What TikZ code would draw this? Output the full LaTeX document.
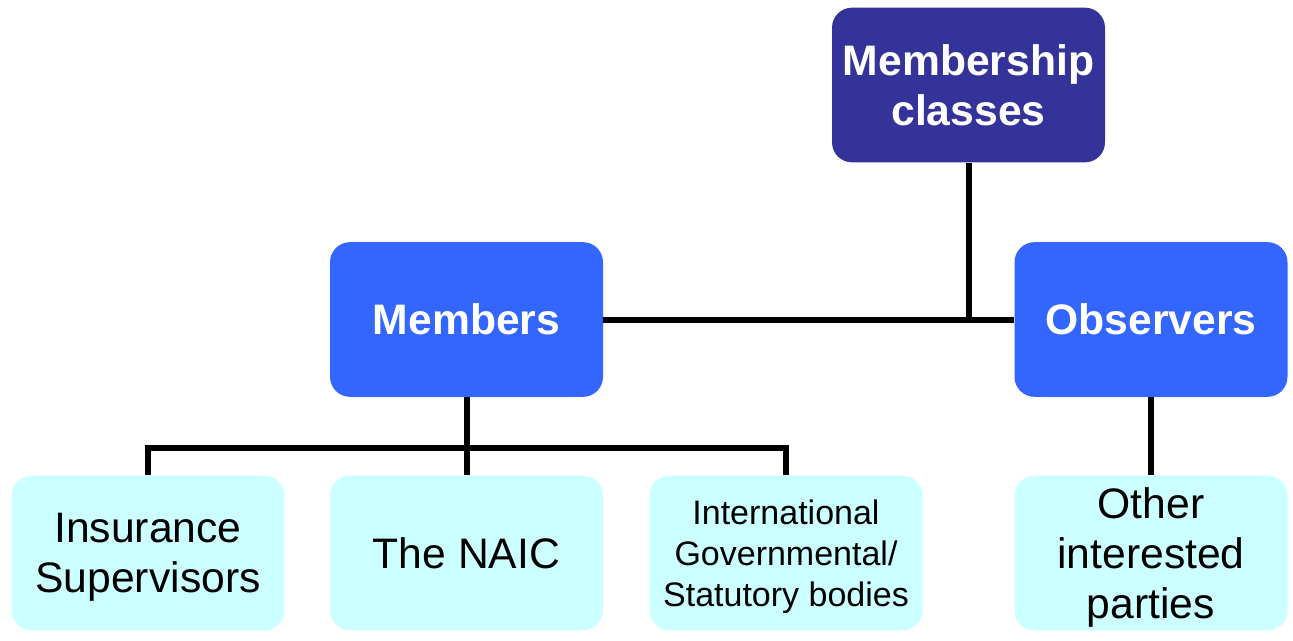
\documentclass[tikz,border=0pt]{standalone}
\usepackage{fontspec}
\setmainfont{Liberation Sans}
\definecolor{navy}{HTML}{333399}
\definecolor{midblue}{HTML}{3366FF}
\definecolor{paleCyan}{HTML}{CCFFFF}
\begin{document}
\begin{tikzpicture}[x=0.75pt,y=-0.75pt,
  boxbase/.style={rectangle,rounded corners=15pt,inner sep=0pt,minimum width=204.75pt,minimum height=116pt,align=center},
  headbox/.style={boxbase,fill=navy,text=white,font=\fontsize{32}{37.5}\selectfont\bfseries},
  classbox/.style={boxbase,fill=midblue,text=white,font=\fontsize{32}{37.5}\selectfont\bfseries},
  leafbox/.style={boxbase,fill=paleCyan,text=black,text depth=0pt,font=\fontsize{32}{37.5}\selectfont},
  smallleaf/.style={boxbase,fill=paleCyan,text=black,text depth=0pt,font=\fontsize{25.5}{30.75}\selectfont},
  link/.style={draw=black,line width=4.5pt,line join=miter}]
\useasboundingbox (0,0) rectangle (1293,640);
\node[headbox] (top) at (968.5,85) {Membership\\classes};
\node[classbox] (members) at (466.5,319.5) {Members};
\node[classbox] (observers) at (1151,319.5) {Observers};
\node[leafbox] (ins) at (148,553) {Insurance\\Supervisors};
\node[boxbase,fill=paleCyan,text=black,font=\fontsize{32}{37.5}\selectfont] (naic) at (466.5,553) {The NAIC};
\node[smallleaf] (intl) at (786,553) {International\\Governmental/\\Statutory bodies};
\node[leafbox] (other) at (1151,553) {Other\\interested\\parties};
\coordinate (bus) at (466.5,448);
\draw[link] (top.south) -- (top.south |- members.east);
\draw[link] (members.east) -- (observers.west);
\draw[link] (members.south) -- (naic.north);
\draw[link] (ins.north) |- (bus) -| (intl.north);
\draw[link] (observers.south) -- (other.north);
\end{tikzpicture}
\end{document}
